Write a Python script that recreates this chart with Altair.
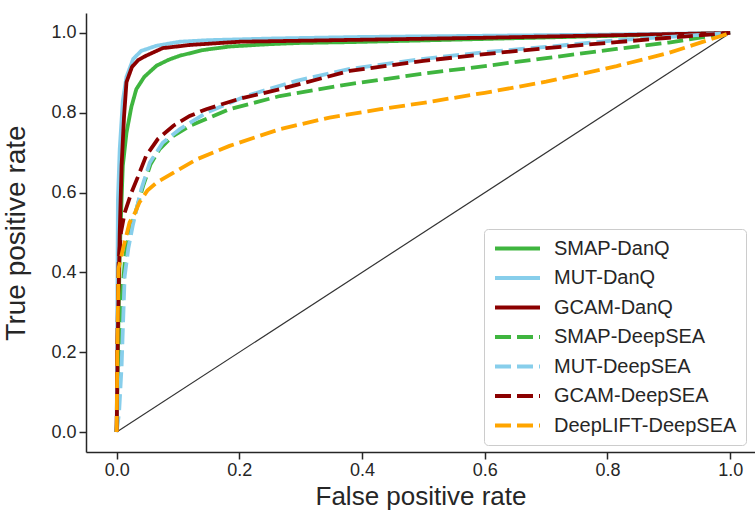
import altair as alt
import pandas as pd

# ---- data ----
series_names = ["SMAP-DanQ", "MUT-DanQ", "GCAM-DanQ", "SMAP-DeepSEA",
                "MUT-DeepSEA", "GCAM-DeepSEA", "DeepLIFT-DeepSEA"]
series_colors = ["#3fb53f", "#87ceeb", "#8b0000", "#3fb53f",
                 "#87ceeb", "#8b0000", "#ffa500"]
series_dashed = [False, False, False, True, True, True, True]

smap_danq_fpr = [0, 0.002, 0.005, 0.008, 0.01, 0.016, 0.024, 0.032, 0.045, 0.065,
                 0.085, 0.103, 0.14, 0.184, 0.25, 0.3, 0.38, 0.6, 0.815, 1.0]
smap_danq_tpr = [0, 0.2, 0.45, 0.583, 0.667, 0.75, 0.815, 0.859, 0.89, 0.918,
                 0.933, 0.943, 0.957, 0.966, 0.972, 0.975, 0.977, 0.985, 0.993, 1.0]

mut_danq_fpr = [0, 0.001, 0.002, 0.005, 0.01, 0.016, 0.027, 0.04, 0.065, 0.103,
                0.15, 0.25, 0.4, 0.6, 0.8, 1.0]
mut_danq_tpr = [0, 0.3, 0.58, 0.71, 0.83, 0.89, 0.935, 0.955, 0.968, 0.978,
                0.982, 0.986, 0.99, 0.993, 0.996, 1.0]

gcam_danq_fpr = [0, 0.002, 0.005, 0.008, 0.012, 0.016, 0.025, 0.035, 0.048, 0.075,
                 0.12, 0.2, 0.4, 0.6, 0.8, 1.0]
gcam_danq_tpr = [0, 0.25, 0.5, 0.667, 0.79, 0.877, 0.915, 0.932, 0.943, 0.962,
                 0.97, 0.978, 0.983, 0.988, 0.994, 1.0]

smap_deepsea_fpr = [0, 0.003, 0.008, 0.014, 0.02, 0.029, 0.043, 0.055, 0.07, 0.09,
                    0.119, 0.184, 0.266, 0.38, 0.5, 0.6, 0.7, 0.815, 0.9, 1.0]
smap_deepsea_tpr = [0, 0.15, 0.33, 0.44, 0.5, 0.541, 0.616, 0.67, 0.709, 0.74,
                    0.767, 0.809, 0.842, 0.872, 0.898, 0.917, 0.937, 0.96, 0.976, 1.0]

mut_deepsea_fpr = [0, 0.004, 0.008, 0.013, 0.019, 0.026, 0.04, 0.054, 0.075, 0.103,
                   0.146, 0.211, 0.293, 0.38, 0.5, 0.6, 0.7, 0.815, 0.9, 1.0]
mut_deepsea_tpr = [0, 0.05, 0.164, 0.39, 0.46, 0.516, 0.608, 0.675, 0.725, 0.759,
                   0.8, 0.842, 0.88, 0.91, 0.935, 0.952, 0.965, 0.982, 0.99, 1.0]

gcam_deepsea_fpr = [0, 0.001, 0.003, 0.007, 0.013, 0.024, 0.035, 0.048, 0.067, 0.092,
                    0.119, 0.146, 0.2, 0.266, 0.38, 0.5, 0.6, 0.7, 0.815, 0.9, 1.0]
gcam_deepsea_tpr = [0, 0.2, 0.42, 0.5, 0.549, 0.6, 0.641, 0.692, 0.734, 0.767,
                    0.792, 0.809, 0.835, 0.859, 0.905, 0.93, 0.947, 0.962, 0.977, 0.988, 1.0]

deeplift_deepsea_fpr = [0, 0.001, 0.003, 0.01, 0.021, 0.03, 0.037, 0.05, 0.065, 0.097,
                        0.13, 0.184, 0.266, 0.347, 0.43, 0.5, 0.6, 0.7, 0.815, 0.9, 0.98, 1.0]
deeplift_deepsea_tpr = [0, 0.2, 0.41, 0.457, 0.525, 0.55, 0.575, 0.605, 0.625, 0.654,
                        0.683, 0.717, 0.759, 0.788, 0.809, 0.825, 0.85, 0.878, 0.917, 0.95, 0.99, 1.0]

chance_fpr = [0.0, 1.0]
chance_tpr = [0.0, 1.0]

tick_values = [0.0, 0.2, 0.4, 0.6, 0.8, 1.0]

# ---- build table ----
all_fpr = [smap_danq_fpr, mut_danq_fpr, gcam_danq_fpr, smap_deepsea_fpr,
           mut_deepsea_fpr, gcam_deepsea_fpr, deeplift_deepsea_fpr]
all_tpr = [smap_danq_tpr, mut_danq_tpr, gcam_danq_tpr, smap_deepsea_tpr,
           mut_deepsea_tpr, gcam_deepsea_tpr, deeplift_deepsea_tpr]
rows = []
for name, xs, ys in zip(series_names, all_fpr, all_tpr):
    for i, (xv, yv) in enumerate(zip(xs, ys)):
        rows.append({"series": name, "fpr": xv, "tpr": yv, "i": i})
df = pd.DataFrame(rows)
chance = pd.DataFrame({"fpr": chance_fpr, "tpr": chance_tpr})

dash_range = [[16, 6] if d else [1, 0] for d in series_dashed]

FONT = "Liberation Sans"
TXT = "#262626"

xscale = alt.Scale(domain=[-0.05, 1.0405], nice=False, zero=False)
yscale = alt.Scale(domain=[-0.05, 1.05], nice=False, zero=False)

xaxis = alt.Axis(values=tick_values, format=".1f", grid=False, title="False positive rate",
                 titleFontSize=26, titlePadding=4, labelPadding=2)
yaxis = alt.Axis(values=tick_values, format=".1f", grid=False, title="True positive rate")

diag = alt.Chart(chance).mark_line(color="#333333", strokeWidth=1.2).encode(
    x=alt.X("fpr:Q", scale=xscale, axis=xaxis),
    y=alt.Y("tpr:Q", scale=yscale, axis=yaxis),
)

curves = alt.Chart(df).mark_line(strokeWidth=3.8).encode(
    x=alt.X("fpr:Q", scale=xscale, axis=xaxis),
    y=alt.Y("tpr:Q", scale=yscale, axis=yaxis),
    order=alt.Order("i:Q"),
    color=alt.Color("series:N", sort=series_names,
                    scale=alt.Scale(domain=series_names, range=series_colors),
                    legend=alt.Legend(title=None)),
    strokeDash=alt.StrokeDash("series:N", sort=series_names,
                              scale=alt.Scale(domain=series_names, range=dash_range),
                              legend=alt.Legend(title=None)),
)

chart = alt.layer(diag, curves).properties(
    width=669,
    height=439,
    autosize=alt.AutoSizeParams(type="none"),
    padding={"left": 86, "top": 13, "right": 0, "bottom": 60},
).configure_view(stroke=None).configure_axis(
    domainColor=TXT, domainWidth=1.5, tickColor=TXT, tickWidth=1.5, tickSize=7,
    labelFont=FONT, labelFontSize=18, labelColor=TXT, labelPadding=3,
    titleFont=FONT, titleFontSize=28, titleFontWeight="normal", titleColor=TXT,
).configure_axisY(titlePadding=20).configure_legend(
    orient="none", legendX=398, legendY=216,
    padding=9, fillColor="white", strokeColor="#cccccc", cornerRadius=4,
    labelFont=FONT, labelFontSize=20, labelColor=TXT, labelOffset=12,
    symbolType="stroke", symbolSize=2025, symbolStrokeWidth=4,
    clipHeight=21, rowPadding=8.5, labelLimit=400,
)

chart.save("out.html", embed_options={"renderer": "svg", "actions": False})
